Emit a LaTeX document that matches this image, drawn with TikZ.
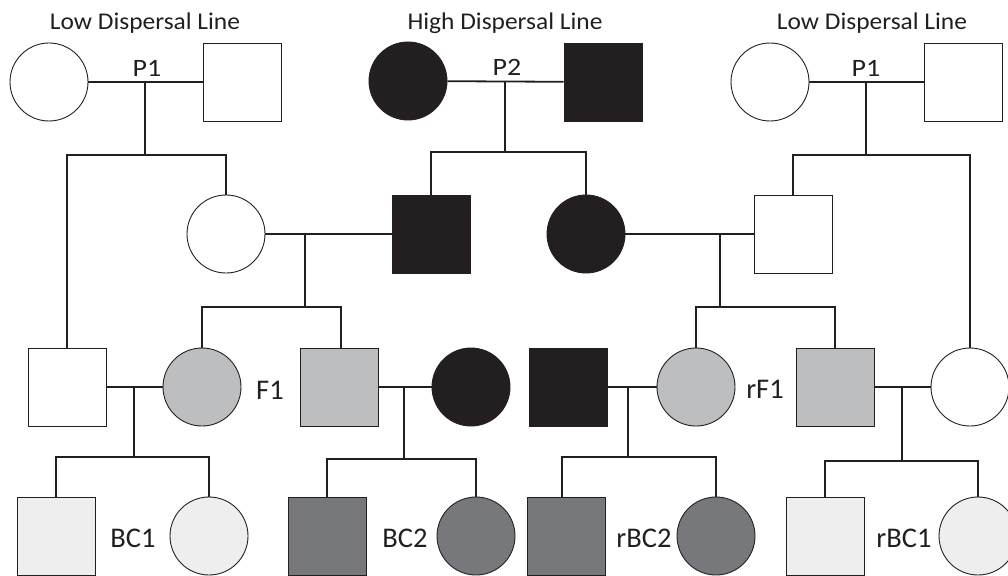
\documentclass[tikz,border=0pt]{standalone}
\usepackage{fontspec}
\setmainfont{Carlito}
\newfontfamily\widefont[FakeStretch=1.06]{Carlito}
\newfontfamily\pfont[FakeStretch=1.12]{Carlito}
\definecolor{ink}{HTML}{231F20}
\definecolor{midgray}{HTML}{BCBEC0}
\definecolor{lightgray}{HTML}{EEEEEF}
\definecolor{darkgray}{HTML}{77787B}
\tikzset{
  fem/.style={circle, draw=ink, line width=0.9pt, minimum size=78pt, inner sep=0pt},
  mal/.style={rectangle, draw=ink, line width=0.9pt, minimum size=78pt, inner sep=0pt},
  wht/.style={fill=white},
  blk/.style={fill=ink},
  gry/.style={fill=midgray},
  lgt/.style={fill=lightgray},
  dgr/.style={fill=darkgray},
  link/.style={draw=ink, line width=1.8pt},
  title/.style={font=\widefont\fontsize{24}{28}\selectfont, text=ink, inner sep=0pt},
  plab/.style={font=\pfont\fontsize{25}{29}\selectfont, text=ink, inner sep=0pt},
  glab/.style={font=\fontsize{28.5}{32}\selectfont, text=ink, inner sep=0pt}
}
\begin{document}
\begin{tikzpicture}[x=1pt, y=-1pt]
\useasboundingbox (0,0) rectangle (1008,575);
% titles
\node[title] (t1) at (145,23) {Low Dispersal Line};
\node[title] (t2) at (505,23) {High Dispersal Line};
\node[title] (t3) at (872,23) {Low Dispersal Line};
% row 1
\node[fem,wht] (p1f) at (49,82) {};
\node[mal,wht] (p1m) at (242,82) {};
\node[fem,blk] (p2f) at (408,81) {};
\node[mal,blk] (p2m) at (603,82) {};
\node[fem,wht] (p3f) at (770,82) {};
\node[mal,wht] (p3m) at (963,82) {};
\node[plab] (lp1) at (147,68) {P1};
\node[plab] (lp2) at (507,67) {P2};
\node[plab] (lp3) at (866,68) {P1};
% row 2
\node[fem,wht] (a2) at (226,234) {};
\node[mal,blk] (b2) at (431,234) {};
\node[fem,blk] (c2) at (586,234) {};
\node[mal,wht] (d2) at (793,234) {};
% row 3
\node[mal,wht] (e3) at (67,387) {};
\node[fem,gry] (f3) at (202,387) {};
\node[mal,gry] (g3) at (339,387) {};
\node[fem,blk] (h3) at (471,387) {};
\node[mal,blk] (i3) at (568,387) {};
\node[fem,gry] (j3) at (696,387) {};
\node[mal,gry] (k3) at (835,387) {};
\node[fem,wht] (l3) at (970,387) {};
\node[glab] (lf1) at (270,390) {F1};
\node[glab] (lrf1) at (765,389) {rF1};
% row 4
\node[mal,lgt] (m4) at (56,536) {};
\node[fem,lgt] (n4) at (209,536) {};
\node[mal,dgr] (o4) at (327,536) {};
\node[fem,dgr] (p4) at (476,536) {};
\node[mal,dgr] (q4) at (566,536) {};
\node[fem,dgr] (r4) at (716,536) {};
\node[mal,lgt] (s4) at (825,536) {};
\node[fem,lgt] (t4) at (978,536) {};
\node[glab] (lbc1) at (133,538) {BC1};
\node[glab] (lbc2) at (405,538) {BC2};
\node[glab] (lrbc2) at (644,538) {rBC2};
\node[glab] (lrbc1) at (904,538) {rBC1};
% family coordinates
\coordinate (m1) at (145,82);  \coordinate (s1) at (145,155);
\coordinate (m2) at (505,81);  \coordinate (s2) at (505,152);
\coordinate (m3) at (866,82);  \coordinate (s3) at (866,155);
\coordinate (m4c) at (305,234); \coordinate (s4c) at (305,307);
\coordinate (m5) at (720,234); \coordinate (s5) at (720,307);
\coordinate (m6) at (134,387); \coordinate (s6) at (134,457);
\coordinate (m7) at (404,387); \coordinate (s7) at (404,459);
\coordinate (m8) at (628,387); \coordinate (s8) at (628,457);
\coordinate (m9) at (902,387); \coordinate (s9) at (902,461);
% matings
\draw[link] (p1f) -- (p1m);
\draw[link] (p2f) -- (p2m);
\draw[link] (p3f) -- (p3m);
\draw[link] (a2) -- (b2);
\draw[link] (c2) -- (d2);
\draw[link] (e3) -- (f3);
\draw[link] (g3) -- (h3);
\draw[link] (i3) -- (j3);
\draw[link] (k3) -- (l3);
% descent
\draw[link] (m1) -- (s1);
\draw[link] (e3.north) |- (s1) -| (a2.north);
\draw[link] (m2) -- (s2);
\draw[link] (b2.north) |- (s2) -| (c2.north);
\draw[link] (m3) -- (s3);
\draw[link] (d2.north) |- (s3) -| (l3.north);
\draw[link] (m4c) -- (s4c);
\draw[link] (f3.north) |- (s4c) -| ([xshift=2pt]g3.north);
\draw[link] (m5) -- (s5);
\draw[link] (j3.north) |- (s5) -| (k3.north);
\draw[link] (m6) -- (s6);
\draw[link] (m4.north) |- (s6) -| (n4.north);
\draw[link] (m7) -- (s7);
\draw[link] (o4.north) |- (s7) -| (p4.north);
\draw[link] (m8) -- (s8);
\draw[link] ([xshift=-4pt]q4.north) |- (s8) -| (r4.north);
\draw[link] (m9) -- (s9);
\draw[link] (s4.north) |- (s9) -| (t4.north);
\end{tikzpicture}
\end{document}
